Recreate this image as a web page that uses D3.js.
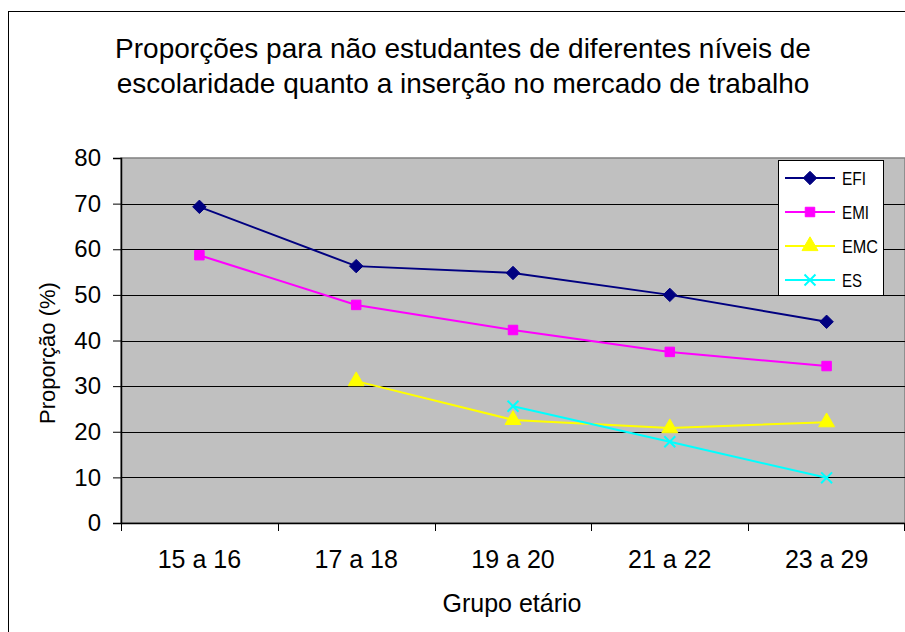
<!DOCTYPE html>
<html>
<head>
<meta charset="utf-8">
<script src="https://cdn.jsdelivr.net/npm/d3@7"></script>
<style>
  html, body { margin: 0; padding: 0; background: #fff; }
  svg { display: block; font-family: "Liberation Sans", Arial, sans-serif; }
</style>
</head>
<body>
<svg id="chart" width="905" height="632"></svg>
<script>
// Age groups on the horizontal axis
const categories = ["15 a 16", "17 a 18", "19 a 20", "21 a 22", "23 a 29"];

// Proportion (%) by schooling level; null where the group has no value
const efi = [69.3, 56.3, 54.8, 50.0, 44.1];
const emi = [58.7, 47.8, 42.3, 37.5, 34.4];
const emc = [null, 31.1, 22.6, 20.8, 22.1];
const es  = [null, null, 25.6, 17.8, 9.9];

const yTicks = [0, 10, 20, 30, 40, 50, 60, 70, 80];

const titleLines = [
  "Proporções para não estudantes de diferentes níveis de",
  "escolaridade quanto a inserção no mercado de trabalho"
];

const series = [
  { name: "EFI", values: efi, color: "#000080", symbol: d3.symbolDiamond2, size: 115, filled: true },
  { name: "EMI", values: emi, color: "#FF00FF", symbol: d3.symbolSquare, size: 90, filled: true },
  { name: "EMC", values: emc, color: "#FFFF00", symbol: d3.symbolTriangle, size: 110, filled: true },
  { name: "ES",  values: es,  color: "#00FFFF", symbol: d3.symbolTimes, size: 80, filled: false }
];

const svg = d3.select("#chart");

// Chart area frame
svg.append("rect")
  .attr("x", 8.5).attr("y", 11.5)
  .attr("width", 1000).attr("height", 1000)
  .attr("fill", "#fff").attr("stroke", "#000").attr("stroke-width", 1);

const plot = { left: 121, right: 905, top: 158, bottom: 523 };

const x = d3.scaleBand().domain(categories).range([plot.left, plot.right]);
const y = d3.scaleLinear().domain([0, 80]).range([plot.bottom, plot.top]);

// Plot background
svg.append("rect")
  .attr("x", plot.left).attr("y", plot.top)
  .attr("width", plot.right - plot.left).attr("height", plot.bottom - plot.top)
  .attr("fill", "#C0C0C0")
  .attr("stroke", "#808080").attr("stroke-width", 1.5);

// Horizontal gridlines
svg.append("g")
  .selectAll("line")
  .data(yTicks.filter(t => t > 0 && t < 80))
  .join("line")
  .attr("x1", plot.left).attr("x2", plot.right)
  .attr("y1", d => Math.round(y(d)) + 0.5).attr("y2", d => Math.round(y(d)) + 0.5)
  .attr("stroke", "#000").attr("stroke-width", 1);

// Y axis
const yAxis = svg.append("g")
  .attr("transform", `translate(${plot.left},0)`)
  .call(d3.axisLeft(y).tickValues(yTicks).tickSize(8).tickPadding(12));
yAxis.select(".domain").attr("stroke", "#000").attr("stroke-width", 1.5);
yAxis.selectAll(".tick line").attr("stroke", "#000");
yAxis.selectAll(".tick text")
  .attr("font-size", 24).attr("fill", "#000")
  .attr("font-family", "Liberation Sans, Arial, sans-serif");

// X axis with ticks at category boundaries
const xAxis = svg.append("g")
  .attr("transform", `translate(0,${plot.bottom})`)
  .call(d3.axisBottom(x).tickSize(0).tickPadding(27));
xAxis.select(".domain").attr("stroke", "#000").attr("stroke-width", 1.5);
xAxis.selectAll(".tick text")
  .attr("font-size", 25).attr("fill", "#000")
  .attr("font-family", "Liberation Sans, Arial, sans-serif");
const boundaries = categories.map(c => x(c)).concat([x.range()[1] - 1]);
xAxis.append("g")
  .selectAll("line")
  .data(boundaries)
  .join("line")
  .attr("x1", d => Math.round(d) + 0.5).attr("x2", d => Math.round(d) + 0.5)
  .attr("y1", 0).attr("y2", 8)
  .attr("stroke", "#000");

// Series lines and markers
const cx = i => x(categories[i]) + x.bandwidth() / 2;

series.forEach(s => {
  const pts = s.values.map((v, i) => ({ i, v }));
  const line = d3.line()
    .defined(d => d.v !== null)
    .x(d => cx(d.i))
    .y(d => y(d.v));
  svg.append("path")
    .datum(pts)
    .attr("d", line)
    .attr("fill", "none")
    .attr("stroke", s.color)
    .attr("stroke-width", 2);
  svg.append("g")
    .selectAll("path")
    .data(pts.filter(d => d.v !== null))
    .join("path")
    .attr("transform", d => `translate(${cx(d.i)},${y(d.v)})`)
    .attr("d", d3.symbol(s.symbol, s.size)())
    .attr("fill", s.filled ? s.color : "none")
    .attr("stroke", s.color)
    .attr("stroke-width", s.filled ? 1 : 2);
});

// Legend
const legend = svg.append("g");
legend.append("rect")
  .attr("x", 778.5).attr("y", 160.5)
  .attr("width", 105).attr("height", 135)
  .attr("fill", "#fff").attr("stroke", "#000").attr("stroke-width", 1);
const rowY = [178, 212, 246, 280];
const labelW = { EFI: 24, EMI: 27, EMC: 36, ES: 20 };
series.forEach((s, k) => {
  const g = legend.append("g").attr("transform", `translate(0,${rowY[k]})`);
  g.append("line")
    .attr("x1", 785).attr("x2", 835).attr("y1", 0).attr("y2", 0)
    .attr("stroke", s.color).attr("stroke-width", 2);
  g.append("path")
    .attr("transform", "translate(810,0)")
    .attr("d", d3.symbol(s.symbol, s.size)())
    .attr("fill", s.filled ? s.color : "none")
    .attr("stroke", s.color)
    .attr("stroke-width", s.filled ? 1 : 2);
  g.append("text")
    .attr("x", 842).attr("y", 6.5)
    .attr("font-size", 18)
    .attr("textLength", labelW[s.name])
    .attr("lengthAdjust", "spacingAndGlyphs")
    .attr("fill", "#000")
    .text(s.name);
});

// Title
svg.append("g")
  .selectAll("text")
  .data(titleLines)
  .join("text")
  .attr("x", 463)
  .attr("y", (d, i) => 58 + i * 35)
  .attr("text-anchor", "middle")
  .attr("font-size", 28)
  .attr("fill", "#000")
  .text(d => d);

// Axis titles
svg.append("text")
  .attr("x", 512).attr("y", 612)
  .attr("text-anchor", "middle")
  .attr("font-size", 25)
  .attr("fill", "#000")
  .text("Grupo etário");

svg.append("text")
  .attr("transform", "translate(55,353) rotate(-90)")
  .attr("text-anchor", "middle")
  .attr("font-size", 22)
  .attr("fill", "#000")
  .text("Proporção (%)");
</script>
</body>
</html>
